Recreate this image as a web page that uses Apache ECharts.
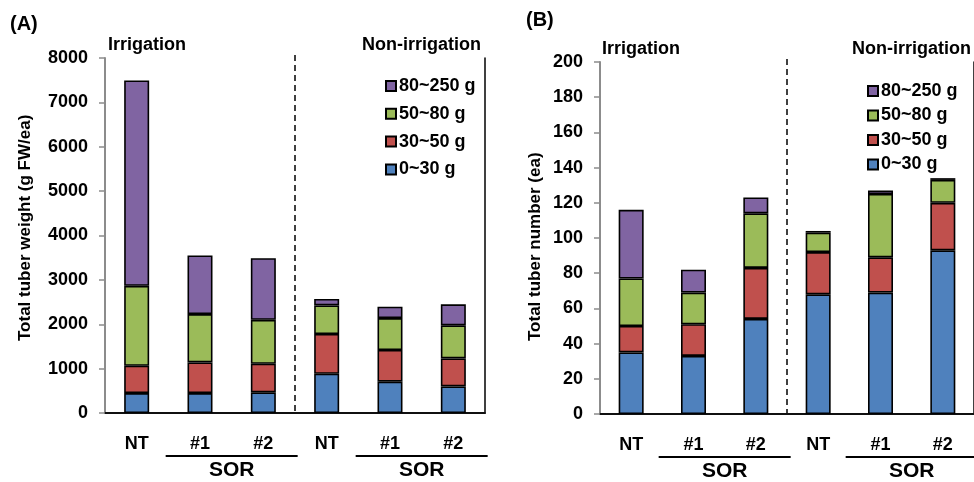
<!DOCTYPE html>
<html>
<head>
<meta charset="utf-8">
<script src="https://cdn.jsdelivr.net/npm/echarts@6/dist/echarts.min.js"></script>
<style>
html,body{margin:0;padding:0;background:#fff;}
#main{width:974px;height:482px;}
</style>
</head>
<body>
<div id="main"></div>
<script>
// categories, same for both panels
var categories = ['NT', '#1', '#2', 'NT', '#1', '#2'];
var sizeNames = ['0~30 g', '30~50 g', '50~80 g', '80~250 g'];
var sizeColors = ['#4F81BD', '#C0504D', '#9BBB59', '#8064A2'];

// (A) total tuber weight, g FW/ea, each size class
var wt0to30 = [450, 450, 465, 885, 705, 600];
var wt30to50 = [615, 690, 645, 895, 715, 630];
var wt50to80 = [1800, 1090, 990, 645, 720, 745];
var wt80to250 = [4630, 1320, 1390, 145, 255, 475];
var wtTicks = [0, 1000, 2000, 3000, 4000, 5000, 6000, 7000, 8000];

// (B) total tuber number, ea, each size class
var num0to30 = [35, 33, 54, 68, 69, 93];
var num30to50 = [15, 18, 29, 24, 20, 27];
var num50to80 = [27, 18, 31, 11, 36, 13];
var num80to250 = [39, 13, 9, 1, 2, 1];
var numTicks = [0, 20, 40, 60, 80, 100, 120, 140, 160, 180, 200];

var FONT = 'Arial, "Liberation Sans", sans-serif';

function makeSeries(datas, gridIdx) {
	var out = [];
	for (var k = 0; k < datas.length; k++) {
		out.push({
			name: sizeNames[k],
			type: 'bar',
			stack: 'g' + gridIdx,
			xAxisIndex: gridIdx * 2,
			yAxisIndex: gridIdx * 2,
			data: datas[k],
			barWidth: 25,
			itemStyle: {color: sizeColors[k], borderColor: '#000', borderWidth: 1.6},
			emphasis: {disabled: true}
		});
	}
	return out;
}

function mainYAxis(gridIdx, ticks) {
	return {
		gridIndex: gridIdx, type: 'value',
		min: ticks[0], max: ticks[ticks.length - 1], interval: ticks[1] - ticks[0],
		axisLine: {show: true, lineStyle: {color: '#8c8c8c', width: 2}},
		axisTick: {show: true, inside: false, length: 6, lineStyle: {color: '#8c8c8c', width: 1.5}},
		axisLabel: {margin: 17, color: '#000', fontWeight: 'bold', fontSize: 18, fontFamily: FONT,
			formatter: function (v) { return String(v); }},
		splitLine: {show: false}
	};
}
function frameYAxis(gridIdx, ticks) {
	return {
		gridIndex: gridIdx, type: 'value', position: 'right',
		min: ticks[0], max: ticks[ticks.length - 1],
		axisLine: {show: true, lineStyle: {color: '#000', width: 1.5}},
		axisTick: {show: false}, axisLabel: {show: false}, splitLine: {show: false}
	};
}
function mainXAxis(gridIdx) {
	return {
		gridIndex: gridIdx, type: 'category', data: categories,
		axisLine: {show: true, lineStyle: {color: '#404040', width: 2}},
		axisTick: {show: false},
		axisLabel: {margin: 22, color: '#000', fontWeight: 'bold', fontSize: 18, fontFamily: FONT, interval: 0}
	};
}
function frameXAxis(gridIdx) {
	return {
		gridIndex: gridIdx, type: 'category', data: categories, position: 'top',
		axisLine: {show: true, lineStyle: {color: '#000', width: 1.5}},
		axisTick: {show: false}, axisLabel: {show: false}
	};
}

var legendOrder = ['80~250 g', '50~80 g', '30~50 g', '0~30 g'];
function makeLegend(left, top, gap) {
	return {
		orient: 'vertical', left: left, top: top, data: legendOrder,
		icon: 'rect', itemWidth: 10, itemHeight: 10, itemGap: gap,
		selectedMode: false,
		textStyle: {color: '#000', fontWeight: 'bold', fontSize: 18, fontFamily: FONT, lineHeight: 18, padding: [0, 0, 0, -2]}
	};
}

var chart = echarts.init(document.getElementById('main'), null, {renderer: 'canvas'});
var option = {
	animation: false,
	backgroundColor: '#fff',
	grid: [
		{left: 105, top: 58, width: 380, height: 355},
		{left: 600, top: 62, width: 383, height: 352}
	],
	xAxis: [mainXAxis(0), frameXAxis(0), mainXAxis(1), frameXAxis(1)],
	yAxis: [mainYAxis(0, wtTicks), frameYAxis(0, wtTicks), mainYAxis(1, numTicks), frameYAxis(1, numTicks)],
	legend: [makeLegend(380, 72, 9.8), makeLegend(862, 77, 6.5)],
	series: makeSeries([wt0to30, wt30to50, wt50to80, wt80to250], 0)
		.concat(makeSeries([num0to30, num30to50, num50to80, num80to250], 1))
};
chart.setOption(option);

// annotations: panel letters, group headers, dividers, SOR brackets
function txt(x, y, s, size, align, extra) {
	var o = {type: 'text', x: x, y: y, silent: true,
		style: {text: s, fill: '#000', font: 'bold ' + size + 'px ' + FONT, textAlign: align || 'left', textVerticalAlign: 'middle'}};
	if (extra) { for (var k in extra) o[k] = extra[k]; }
	return o;
}
var gfx = [];
var panels = [
	{g: 0, top: wtTicks[wtTicks.length - 1], letter: '(A)', lx: 10, ly: 24, hy: 45, nonRight: 481, nonLeft: null, irrX: 108, yname: 'Total tuber weight (g FW/ea)', ynx: 25},
	{g: 1, top: numTicks[numTicks.length - 1], letter: '(B)', lx: 526, ly: 20, hy: 49, nonRight: null, nonLeft: 852, irrX: 602, yname: 'Total tuber number (ea)', ynx: 535}
];
panels.forEach(function (p) {
	var ax = p.g * 2;
	var px = function (i) { return chart.convertToPixel({xAxisIndex: ax}, i); };
	var y0 = chart.convertToPixel({yAxisIndex: ax}, 0);
	var yTop = chart.convertToPixel({yAxisIndex: ax}, p.top);
	gfx.push(txt(p.lx, p.ly, p.letter, 20, 'left'));
	gfx.push(txt(p.irrX, p.hy, 'Irrigation', 18, 'left'));
	if (p.nonRight) gfx.push(txt(p.nonRight, p.hy, 'Non-irrigation', 18, 'right'));
	else gfx.push(txt(p.nonLeft, p.hy, 'Non-irrigation', 18, 'left'));
	gfx.push(txt(p.ynx, 341, p.yname, 17, 'left', {rotation: Math.PI / 2}));
	var mid = (px(2) + px(3)) / 2;
	gfx.push({type: 'line', silent: true, shape: {x1: mid, y1: yTop - 3, x2: mid, y2: y0},
		style: {stroke: '#000', lineWidth: 1.5, lineDash: [6, 4]}});
	[[1, 2], [4, 5]].forEach(function (pair) {
		var c = (px(pair[0]) + px(pair[1])) / 2;
		gfx.push({type: 'line', silent: true, shape: {x1: c - 66, y1: y0 + 43, x2: c + 66, y2: y0 + 43},
			style: {stroke: '#000', lineWidth: 2}});
		gfx.push(txt(c, y0 + 57, 'SOR', 21, 'center'));
	});
});
chart.setOption({graphic: gfx});
</script>
</body>
</html>
